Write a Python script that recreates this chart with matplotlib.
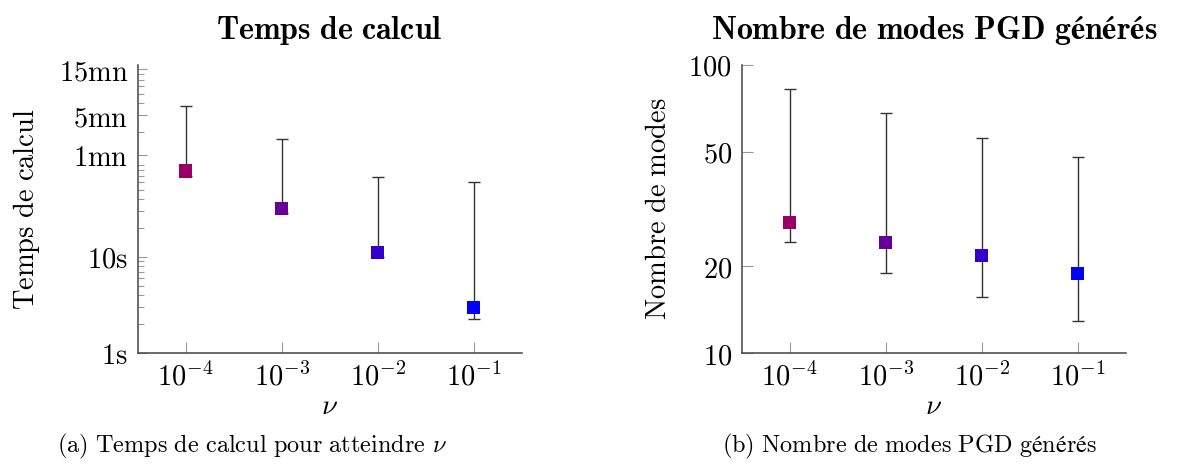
import matplotlib
matplotlib.use("Agg")
import matplotlib.pyplot as plt
import numpy as np

plt.rcParams['mathtext.fontset'] = 'cm'

# data
nu = [1e-4, 1e-3, 1e-2, 1e-1]
nu_labels = [r'$10^{-4}$', r'$10^{-3}$', r'$10^{-2}$', r'$10^{-1}$']
colors = ['#990066', '#660099', '#3300cc', '#0000ff']

# temps de calcul (s)
t_med = [78.7, 32.2, 11.1, 3.0]
t_min = [70.0, 29.0, 10.0, 2.28]
t_max = [371.0, 171.0, 68.6, 60.4]
t_ticks = [1, 10, 115, 300, 900]
t_ticklabels = ['1s', '10s', '1mn', '5mn', '15mn']

# nombre de modes
m_med = [28.4, 24.1, 21.8, 18.9]
m_min = [24.3, 19.0, 15.7, 12.9]
m_max = [82.4, 68.0, 55.7, 47.9]
m_ticks = [10, 20, 50, 100]

FS = 20.5


def tex(s, bold=False):
    s = s.replace(' ', r'\ ')
    return (r'$\mathbf{%s}$' if bold else r'$\mathrm{%s}$') % s


def style(ax):
    for side in ['top', 'right']:
        ax.spines[side].set_visible(False)
    for side in ['left', 'bottom']:
        ax.spines[side].set_color('#444444')
        ax.spines[side].set_linewidth(1.1)
    ax.set_xscale('log')
    ax.set_yscale('log')
    ax.set_xlim(10**-4.5, 10**-0.5)
    ax.set_xticks(nu)
    ax.set_xticklabels(nu_labels)
    ax.xaxis.set_minor_locator(matplotlib.ticker.NullLocator())
    ax.tick_params(which='major', direction='in', length=8, width=0.8,
                   color='#999999', labelsize=FS, pad=7)
    ax.tick_params(which='minor', direction='in', length=4.5, width=0.8,
                   color='#999999')
    ax.set_xlabel(r'$\nu$', fontsize=FS, labelpad=0)


fig = plt.figure(figsize=(11.79, 4.73), dpi=100)

ax1 = fig.add_axes([137.7/1179, 120/473, 384/1179, 288/473])
style(ax1)
ax1.set_ylim(1, 1000)
ax1.errorbar(nu, t_med, yerr=[np.subtract(t_med, t_min), np.subtract(t_max, t_med)],
             fmt='none', ecolor='#333333', elinewidth=1, capsize=4, capthick=1)
ax1.scatter(nu, t_med, c=colors, marker='s', s=88, zorder=3, linewidths=0)
ax1.set_yticks(t_ticks)
ax1.set_yticklabels([tex(s) for s in t_ticklabels])
ax1.yaxis.set_minor_locator(matplotlib.ticker.LogLocator(subs=np.arange(2, 10)))
ax1.yaxis.set_minor_formatter(matplotlib.ticker.NullFormatter())
ax1.tick_params(axis='y', which='major', length=6.5)
ax1.set_ylabel(tex('Temps de calcul'), fontsize=FS, labelpad=12)
ax1.set_title(tex('Temps de calcul', bold=True), fontsize=23, pad=19)

ax2 = fig.add_axes([741.7/1179, 120/473, 384/1179, 288/473])
style(ax2)
ax2.set_ylim(10, 100)
ax2.errorbar(nu, m_med, yerr=[np.subtract(m_med, m_min), np.subtract(m_max, m_med)],
             fmt='none', ecolor='#333333', elinewidth=1, capsize=4, capthick=1)
ax2.scatter(nu, m_med, c=colors, marker='s', s=88, zorder=3, linewidths=0)
ax2.set_yticks(m_ticks)
ax2.set_yticklabels([tex(str(v)) for v in m_ticks])
ax2.yaxis.set_minor_locator(matplotlib.ticker.NullLocator())
ax2.set_ylabel(tex('Nombre de modes'), fontsize=FS, labelpad=12)
ax2.set_title(tex('Nombre de modes PGD générés', bold=True), fontsize=23, pad=19)

fig.text(252/1179, 1 - 446/473, tex('(a) Temps de calcul pour atteindre') + r' $\nu$',
         fontsize=17.5, ha='center', va='center')
fig.text(910/1179, 1 - 446/473, tex('(b) Nombre de modes PGD générés'),
         fontsize=17.5, ha='center', va='center')

fig.savefig('out.png', dpi=100)
plt.close()
